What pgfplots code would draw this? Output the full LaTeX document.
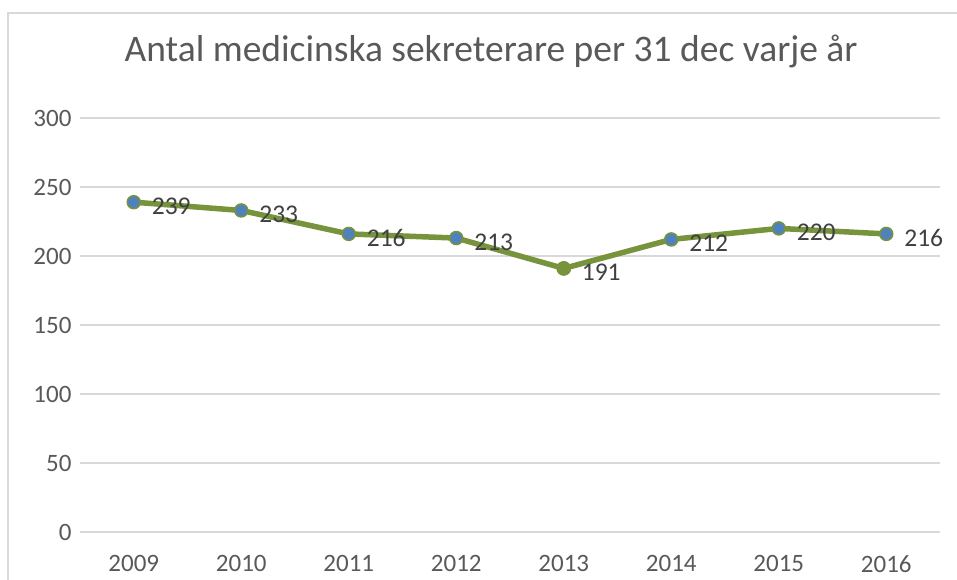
\documentclass[border=0pt]{standalone}
\usepackage{pgfplots}
\pgfplotsset{compat=1.18}
\usepackage{fontspec}
\setmainfont{Carlito}
\definecolor{linegreen}{HTML}{77933C}
\definecolor{markblue}{HTML}{4F81BD}
\definecolor{gridgray}{HTML}{D9D9D9}
\definecolor{ticktext}{HTML}{595959}
\definecolor{labeltext}{HTML}{404040}
\begin{document}
\begin{tikzpicture}
\useasboundingbox (0,0) rectangle (957pt,580pt);
\draw[gridgray, line width=1.5pt] (8pt,-2pt) -- (8pt,567pt) -- (960pt,567pt);
\node[anchor=base, text=ticktext, font=\fontsize{37.5}{42}\selectfont] at (491pt,518pt) {Antal medicinska sekreterare per 31 dec varje år};
\begin{axis}[
  at={(80pt,48pt)}, anchor=south west,
  width=860pt, height=414pt, scale only axis,
  xmin=-0.5, xmax=7.5, ymin=0, ymax=300,
  xtick={0,1,2,3,4,5,6,7},
  xticklabels={2009,2010,2011,2012,2013,2014,2015,2016},
  ytick={0,50,100,150,200,250,300},
  axis line style={draw=none},
  tick style={draw=none},
  ymajorgrids, grid style={gridgray, line width=1.5pt},
  /pgf/number format/assume math mode=true,
  ticklabel style={text=ticktext, font=\fontsize{25}{30}\selectfont},
  xticklabel style={yshift=-20pt},
  yticklabel style={xshift=-5pt},
  clip=false,
]
\addplot[linegreen, line width=5.5pt, mark=*, mark size=6.5pt,
  mark options={fill=markblue, draw=linegreen, line width=1.5pt},
  nodes near coords,
  every node near coord/.append style={anchor=west, xshift=14pt, yshift=-4pt, text=labeltext, font=\fontsize{25.5}{30}\selectfont, /pgf/number format/assume math mode=true},
] coordinates {(0,239) (1,233) (2,216) (3,213) (4,191) (5,212) (6,220) (7,216)};
\addplot[only marks, mark=*, mark size=6.5pt, mark options={fill=linegreen, draw=linegreen, line width=1.5pt}] coordinates {(4,191)};
\end{axis}
\end{tikzpicture}
\end{document}
